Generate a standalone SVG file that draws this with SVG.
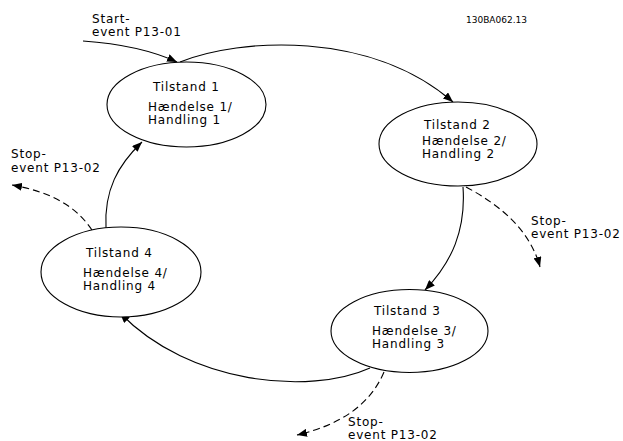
<svg xmlns="http://www.w3.org/2000/svg" width="623" height="441" viewBox="0 0 623 441">
<style>
  .node ellipse { fill: #fff; stroke: #000; stroke-width: 1.1; }
  text { font-family: "DejaVu Sans", Verdana, sans-serif; font-size: 12px; letter-spacing: 0.8px; fill: #000; }
  .code { font-size: 9px; letter-spacing: 0; }
  .edge { fill: none; stroke: #000; stroke-width: 1.1; marker-end: url(#arr); }
  .dash { stroke-dasharray: 7 4; }
</style>
<defs>
  <marker id="arr" viewBox="0 0 10 8" refX="10" refY="4" markerWidth="10" markerHeight="8" markerUnits="userSpaceOnUse" orient="auto">
    <path d="M0,0 L10,4 L0,8 Z" fill="#000"/>
  </marker>
</defs>
<rect width="623" height="441" fill="#fff"/>
<text class="code" x="466" y="23">130BA062.13</text>

<g id="connectors">
  <path class="edge" d="M83,41 Q140,45 177,62"/>
  <path class="edge" d="M180,62 C240,38 370,30 453,102"/>
  <path class="edge" d="M463,187 C466,230 452,262 425,290"/>
  <path class="edge dash" d="M466,187 C500,205 530,230 540,267"/>
  <path class="edge" d="M370,368 C310,395 190,385 120,313"/>
  <path class="edge dash" d="M384,372 C370,405 340,425 297,435"/>
  <path class="edge" d="M106,228 C104,190 118,165 142,142"/>
  <path class="edge dash" d="M92,230 C75,205 50,192 12,185"/>
</g>

<g id="node1" class="node">
  <ellipse cx="186.5" cy="104.5" rx="79.5" ry="42.5"/>
  <text x="153" y="91">Tilstand 1</text>
  <text x="148" y="111">Hændelse 1/</text>
  <text x="148" y="124">Handling 1</text>
</g>
<g id="node2" class="node">
  <ellipse cx="458" cy="144" rx="79" ry="42"/>
  <text x="424" y="129">Tilstand 2</text>
  <text x="422" y="145">Hændelse 2/</text>
  <text x="422" y="158">Handling 2</text>
</g>
<g id="node3" class="node">
  <ellipse cx="409.5" cy="331" rx="78.5" ry="41.5"/>
  <text x="374" y="315">Tilstand 3</text>
  <text x="372" y="335">Hændelse 3/</text>
  <text x="372" y="348">Handling 3</text>
</g>
<g id="node4" class="node">
  <ellipse cx="121" cy="272" rx="80" ry="45"/>
  <text x="86" y="257">Tilstand 4</text>
  <text x="83" y="277">Hændelse 4/</text>
  <text x="83" y="290">Handling 4</text>
</g>

<g id="labels">
  <text x="92" y="23">Start-</text>
  <text x="92" y="36">event P13-01</text>
  <text x="11" y="158">Stop-</text>
  <text x="11" y="172">event P13-02</text>
  <text x="531" y="225">Stop-</text>
  <text x="531" y="238">event P13-02</text>
  <text x="348" y="426">Stop-</text>
  <text x="348" y="439">event P13-02</text>
</g>
</svg>
